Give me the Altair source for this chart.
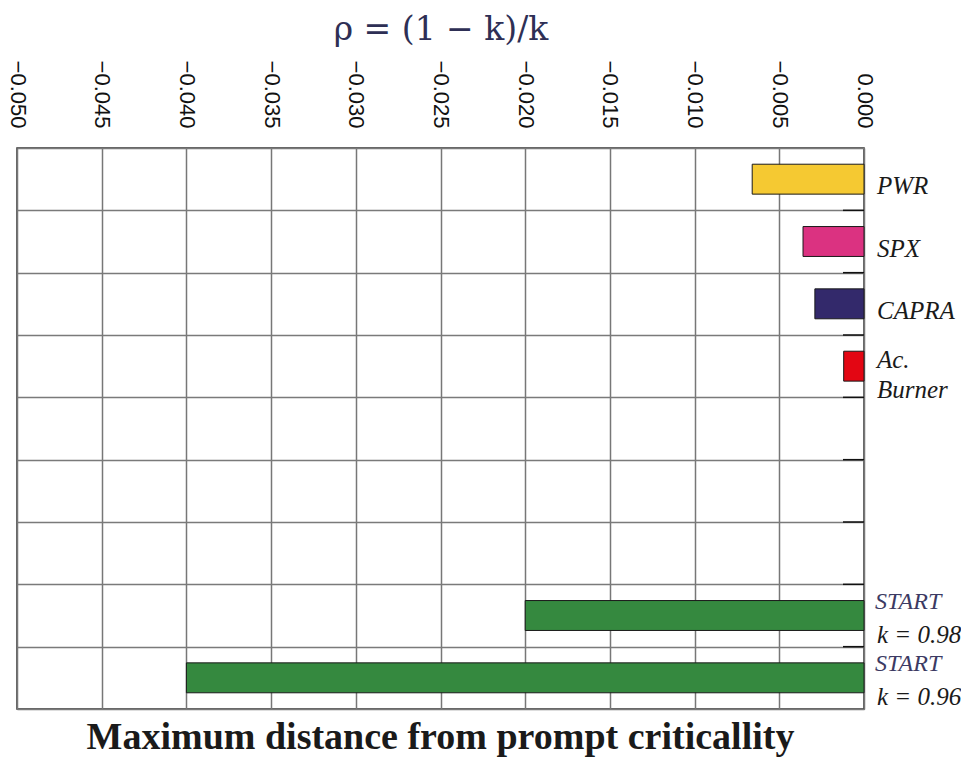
import altair as alt
import pandas as pd

# ---- data ----
rows = ["PWR", "SPX", "CAPRA", "Ac. Burner", "row5", "row6", "row7",
        "START k=0.98", "START k=0.96"]
bar_rows = ["PWR", "SPX", "CAPRA", "Ac. Burner", "START k=0.98", "START k=0.96"]
bar_values = [-0.0066, -0.0036, -0.0029, -0.0012, -0.020, -0.040]
bar_colors = ["#F5C932", "#DB3281", "#33296B", "#E30613", "#35893F", "#35893F"]

single_rows = ["PWR", "SPX", "CAPRA"]
single_texts = ["PWR", "SPX", "CAPRA"]

double_rows = ["Ac. Burner"]
double_texts = ["Ac.\nBurner"]

start_rows = ["START k=0.98", "START k=0.96"]
start_top = ["START", "START"]
start_bottom = ["k = 0.98", "k = 0.96"]

tick_values = [-0.050, -0.045, -0.040, -0.035, -0.030, -0.025,
               -0.020, -0.015, -0.010, -0.005, 0.000]

W, H = 847, 561

bars_df = pd.DataFrame({"row": bar_rows, "value": bar_values})
single_df = pd.DataFrame({"row": single_rows, "text": single_texts})
double_df = pd.DataFrame({"row": double_rows, "text": double_texts})
start_df = pd.DataFrame({"row": start_rows, "top": start_top, "bottom": start_bottom})
bound_df = pd.DataFrame({"row": rows[1:]})

yscale = alt.Scale(domain=rows, paddingInner=0, paddingOuter=0)
yaxis = alt.Axis(orient="left", labels=False, ticks=False, domain=False,
                 tickBand="extent", grid=True, gridColor="#7a7a7a",
                 gridWidth=1.5, title=None)


def Y(**kw):
    return alt.Y("row:N", scale=yscale, axis=yaxis, **kw)


bars = alt.Chart(bars_df).mark_bar(
    height=alt.RelativeBandSize(0.48), stroke="#1a1a1a", strokeWidth=1
).encode(
    x=alt.X("value:Q",
            scale=alt.Scale(domain=[-0.05, 0.0], nice=False, zero=False),
            axis=alt.Axis(orient="top", values=tick_values, format=".3f",
                          labelAngle=90, labelAlign="right", labelBaseline="middle",
                          labelPadding=20, labelFont="Liberation Sans", labelFontSize=22,
                          labelColor="#111", ticks=False, domain=False,
                          grid=True, gridColor="#777", gridWidth=1.5,
                          title="ρ = (1 − k)/k", titleFont="DejaVu Serif",
                          titleFontSize=33, titleFontWeight="normal",
                          titleColor="#2E2F55", titleY=-109,
                          titleBaseline="alphabetic")),
    y=Y(),
    color=alt.Color("row:N", scale=alt.Scale(domain=bar_rows, range=bar_colors),
                    legend=None),
)

ticks = alt.Chart(bound_df).mark_rule(color="#111", strokeWidth=1.5).encode(
    y=Y(bandPosition=0),
    x=alt.value(W - 21),
    x2=alt.value(W),
)

label_style = dict(align="left", baseline="middle", font="Liberation Serif",
                   fontStyle="italic", fontSize=25, color="#1a1a1a")

single = alt.Chart(single_df).mark_text(dy=7, **label_style).encode(
    y=Y(), x=alt.value(W + 13), text="text:N",
)

double = alt.Chart(double_df).mark_text(
    dy=-6, lineBreak="\n", lineHeight=30, **label_style
).encode(
    y=Y(), x=alt.value(W + 13), text="text:N",
)

start_lbl = alt.Chart(start_df).mark_text(
    align="left", baseline="middle", font="Liberation Serif", fontStyle="italic",
    fontSize=24, color="#3C3A63", dy=-14
).encode(
    y=Y(), x=alt.value(W + 11), text="top:N",
)

k_lbl = alt.Chart(start_df).mark_text(dy=19, **label_style).encode(
    y=Y(), x=alt.value(W + 13), text="bottom:N",
)

chart = alt.layer(bars, ticks, single, double, start_lbl, k_lbl).properties(
    width=W, height=H,
    autosize=alt.AutoSizeParams(type="none"),
    padding={"left": 17, "top": 148, "right": 97, "bottom": 52},
    title=alt.TitleParams("Maximum distance from prompt criticallity",
                          orient="bottom", anchor="middle", font="Liberation Serif",
                          fontSize=38, fontWeight="bold", color="#1a1a1a", offset=9),
).configure_view(stroke="#333", strokeWidth=1.5)

chart.save("out.html", embed_options={"renderer": "svg", "actions": False})
